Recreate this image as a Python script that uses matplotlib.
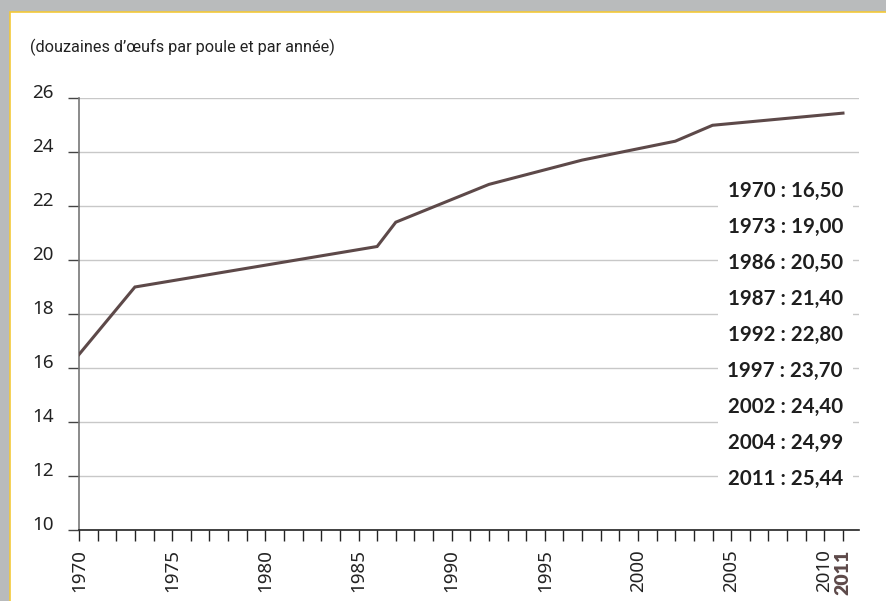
import matplotlib
matplotlib.use("Agg")
import matplotlib.pyplot as plt
from matplotlib.patches import Rectangle

# egg production per hen (dozens per year)
years = [1970, 1973, 1986, 1987, 1992, 1997, 2002, 2004, 2011]
values = [16.50, 19.00, 20.50, 21.40, 22.80, 23.70, 24.40, 24.99, 25.44]
value_labels = ["16,50", "19,00", "20,50", "21,40", "22,80", "23,70", "24,40", "24,99", "25,44"]
yticks = [10, 12, 14, 16, 18, 20, 22, 24, 26]
xtick_labels = [1970, 1975, 1980, 1985, 1990, 1995, 2000, 2005, 2010]

LINE = "#5d4949"
FONT = ["Noto Sans", "DejaVu Sans"]
BOLD = ["Lato", "DejaVu Sans"]
W, H = 887, 601

fig = plt.figure(figsize=(W / 100, H / 100), dpi=100, facecolor="#b9bbbc")
panel = Rectangle((10 / W, -0.01), 1, 1 - 12 / H + 0.01, transform=fig.transFigure,
                  facecolor="white", edgecolor="#f3c93a", linewidth=1.2, zorder=-5)
fig.patches.append(panel)

ax = fig.add_axes([79 / W, 1 - 530 / H, (859 - 79) / W, (530 - 98) / H])
ax.set_zorder(2)
ax.set_facecolor("white")

ax.plot(years, values, color=LINE, lw=2.2, solid_joinstyle="miter", zorder=3)

ax.set_xlim(1970, 2011.86)
ax.set_ylim(10, 26)
ax.set_yticks(yticks)
ax.yaxis.grid(True, color="#c8c8c8", lw=1)
ax.set_axisbelow(True)

ax.set_xticks(range(1970, 2012))
ax.set_xticklabels([str(y) if y in xtick_labels else ("2011" if y == 2011 else "")
                    for y in range(1970, 2012)], rotation=90,
                   fontsize=13.5, family=FONT, color="#222222")
for lab in ax.get_xticklabels():
    if lab.get_text() == "2011":
        lab.set_family(BOLD)
        lab.set_fontweight("heavy")
        lab.set_fontsize(14)
        lab.set_color(LINE)
ax.set_yticklabels([str(v) for v in yticks], fontsize=13.5, family=FONT,
                   color="#222222", va="baseline")

ax.tick_params(axis="x", direction="out", length=8, width=1, color="#222222", pad=6)
ax.tick_params(axis="y", direction="out", length=8, width=1, color="#444444", pad=10)

for s in ["top", "right"]:
    ax.spines[s].set_visible(False)
ax.spines["left"].set_color("#777777")
ax.spines["left"].set_linewidth(1.2)
ax.spines["bottom"].set_color("#222222")
ax.spines["bottom"].set_linewidth(1.2)

# value list on the right
for i, (yr, lab) in enumerate(zip(years, value_labels)):
    ax.text(2011, 22.57 - i * 1.335, f"{yr} : {lab}", ha="right", va="center",
            fontsize=14.8, fontweight="bold", family=BOLD, color="#1e1e1e",
            bbox=dict(facecolor="white", edgecolor="none", pad=7), zorder=4)

fig.text(30 / W, 1 - 47 / H, "(douzaines d\u2019\u0153ufs par poule et par ann\u00e9e)",
         ha="left", va="center", fontsize=11.7,
         family=["Roboto", "DejaVu Sans"], color="#222222")

fig.savefig("out.png", dpi=100, facecolor=fig.get_facecolor())
